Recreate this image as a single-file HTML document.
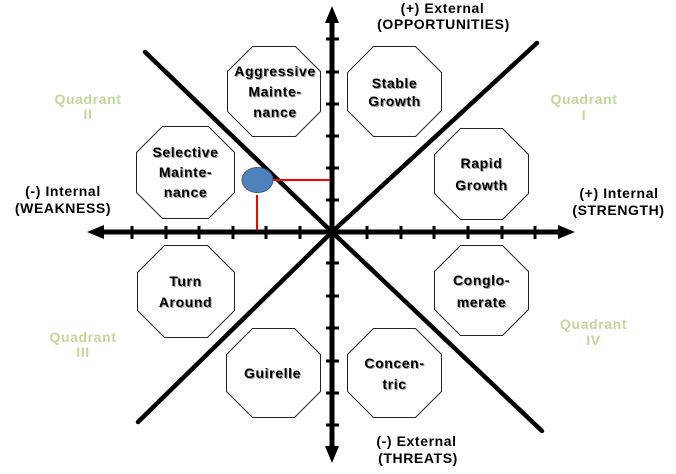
<!DOCTYPE html>
<html>
<head>
<meta charset="utf-8">
<style>
html,body{margin:0;padding:0;background:#fff;}
svg{display:block;}
text{font-family:"Liberation Sans",Arial,sans-serif;font-weight:bold;font-size:14px;letter-spacing:0.6px;}
.sh{fill:#9a9a9a;}
.tx{fill:#000;}
.q{fill:#c3d69b;}
</style>
</head>
<body>
<svg width="676" height="474" viewBox="0 0 676 474" xmlns="http://www.w3.org/2000/svg">
  <!-- Octagons -->
  <g fill="#fff" stroke="#222" stroke-width="1">
    <polygon points="252.5,46.5 295.5,46.5 320.5,71.5 320.5,111.5 295.5,136.5 252.5,136.5 227.5,111.5 227.5,71.5"/>
    <polygon points="373.5,46.5 415.5,46.5 441.5,72.5 441.5,110.5 415.5,136.5 373.5,136.5 347.5,110.5 347.5,72.5"/>
    <polygon points="162.5,126.5 208.5,126.5 234.5,152.5 234.5,192.5 208.5,218.5 162.5,218.5 136.5,192.5 136.5,152.5"/>
    <polygon points="460.5,128.5 502.5,128.5 528.5,154.5 528.5,193.5 502.5,219.5 460.5,219.5 434.5,193.5 434.5,154.5"/>
    <polygon points="164.5,245.5 207.5,245.5 234.5,272.5 234.5,310.5 207.5,337.5 164.5,337.5 137.5,310.5 137.5,272.5"/>
    <polygon points="252.5,328.5 294.5,328.5 320.5,354.5 320.5,391.5 294.5,417.5 252.5,417.5 226.5,391.5 226.5,354.5"/>
    <polygon points="460.5,245.5 502.5,245.5 528.5,271.5 528.5,309.5 502.5,335.5 460.5,335.5 434.5,309.5 434.5,271.5"/>
    <polygon points="373.5,328.5 415.5,328.5 441.5,354.5 441.5,391.5 415.5,417.5 373.5,417.5 347.5,391.5 347.5,354.5"/>
  </g>

  <!-- Diagonals -->
  <g stroke="#000" stroke-width="4.5" stroke-linecap="round">
    <line x1="145" y1="52" x2="332" y2="232"/>
    <line x1="332" y1="232" x2="542" y2="431"/>
    <line x1="537" y1="43" x2="332" y2="232"/>
    <line x1="332" y1="232" x2="138" y2="422"/>
  </g>

  <!-- Axes -->
  <g stroke="#000" stroke-width="5">
    <line x1="332" y1="20" x2="332" y2="450"/>
    <line x1="100" y1="232" x2="562" y2="232"/>
  </g>
  <g fill="#000">
    <polygon points="332,6 339,23 325,23"/>
    <polygon points="332,463 339,446 325,446"/>
    <polygon points="87,232 104,225 104,239"/>
    <polygon points="575,232 558,225 558,239"/>
  </g>
  <!-- Ticks -->
  <g stroke="#000" stroke-width="3">
    <line x1="132" y1="226" x2="132" y2="239"/>
    <line x1="166" y1="226" x2="166" y2="239"/>
    <line x1="199" y1="226" x2="199" y2="239"/>
    <line x1="233" y1="226" x2="233" y2="239"/>
    <line x1="266" y1="226" x2="266" y2="239"/>
    <line x1="300" y1="226" x2="300" y2="239"/>
    <line x1="367" y1="226" x2="367" y2="239"/>
    <line x1="401" y1="226" x2="401" y2="239"/>
    <line x1="434" y1="226" x2="434" y2="239"/>
    <line x1="468" y1="226" x2="468" y2="239"/>
    <line x1="502" y1="226" x2="502" y2="239"/>
    <line x1="535" y1="226" x2="535" y2="239"/>
    <line x1="326" y1="39" x2="339" y2="39"/>
    <line x1="326" y1="72" x2="339" y2="72"/>
    <line x1="326" y1="104" x2="339" y2="104"/>
    <line x1="326" y1="136" x2="339" y2="136"/>
    <line x1="326" y1="168" x2="339" y2="168"/>
    <line x1="326" y1="200" x2="339" y2="200"/>
    <line x1="326" y1="263" x2="339" y2="263"/>
    <line x1="326" y1="296" x2="339" y2="296"/>
    <line x1="326" y1="328" x2="339" y2="328"/>
    <line x1="326" y1="361" x2="339" y2="361"/>
    <line x1="326" y1="393" x2="339" y2="393"/>
    <line x1="326" y1="425" x2="339" y2="425"/>
  </g>

  <!-- Red lines and marker -->
  <g stroke="#ff0000" stroke-width="2">
    <line x1="273" y1="180" x2="330" y2="180"/>
    <line x1="257" y1="195" x2="257" y2="230"/>
  </g>
  <ellipse cx="257.5" cy="180" rx="15.5" ry="12.5" fill="#4f81bd" stroke="#385d8a" stroke-width="1"/>

  <!-- Octagon labels (shadow) -->
  <g class="sh" text-anchor="middle" transform="translate(1,1)">
    <text x="275" y="76">Aggressive</text>
    <text x="275" y="96.5">Mainte-</text>
    <text x="275" y="117">nance</text>
    <text x="394.5" y="88">Stable</text>
    <text x="394.5" y="106">Growth</text>
    <text x="185.5" y="157">Selective</text>
    <text x="185.5" y="177">Mainte-</text>
    <text x="185.5" y="197">nance</text>
    <text x="481.5" y="168">Rapid</text>
    <text x="481.5" y="190">Growth</text>
    <text x="185.5" y="286">Turn</text>
    <text x="185.5" y="307">Around</text>
    <text x="272.5" y="378">Guirelle</text>
    <text x="481.5" y="285">Conglo-</text>
    <text x="481.5" y="307">merate</text>
    <text x="394.5" y="368">Concen-</text>
    <text x="394.5" y="389">tric</text>
  </g>
  <g class="tx" text-anchor="middle">
    <text x="275" y="76">Aggressive</text>
    <text x="275" y="96.5">Mainte-</text>
    <text x="275" y="117">nance</text>
    <text x="394.5" y="88">Stable</text>
    <text x="394.5" y="106">Growth</text>
    <text x="185.5" y="157">Selective</text>
    <text x="185.5" y="177">Mainte-</text>
    <text x="185.5" y="197">nance</text>
    <text x="481.5" y="168">Rapid</text>
    <text x="481.5" y="190">Growth</text>
    <text x="185.5" y="286">Turn</text>
    <text x="185.5" y="307">Around</text>
    <text x="272.5" y="378">Guirelle</text>
    <text x="481.5" y="285">Conglo-</text>
    <text x="481.5" y="307">merate</text>
    <text x="394.5" y="368">Concen-</text>
    <text x="394.5" y="389">tric</text>
  </g>

  <!-- Axis labels -->
  <g class="tx" text-anchor="middle">
    <text x="442.5" y="13">(+) External</text>
    <text x="443.5" y="29">(OPPORTUNITIES)</text>
    <text x="619" y="198">(+) Internal</text>
    <text x="618.5" y="215">(STRENGTH)</text>
    <text x="63" y="196">(-) Internal</text>
    <text x="63" y="213">(WEAKNESS)</text>
    <text x="416.5" y="446">(-) External</text>
    <text x="418" y="463">(THREATS)</text>
  </g>

  <!-- Quadrant labels -->
  <g class="q" text-anchor="middle">
    <text x="88" y="104">Quadrant</text>
    <text x="88" y="119">II</text>
    <text x="584" y="104">Quadrant</text>
    <text x="584" y="120">I</text>
    <text x="83" y="342">Quadrant</text>
    <text x="83" y="357">III</text>
    <text x="593.5" y="329">Quadrant</text>
    <text x="593.5" y="345">IV</text>
  </g>
</svg>
</body>
</html>
